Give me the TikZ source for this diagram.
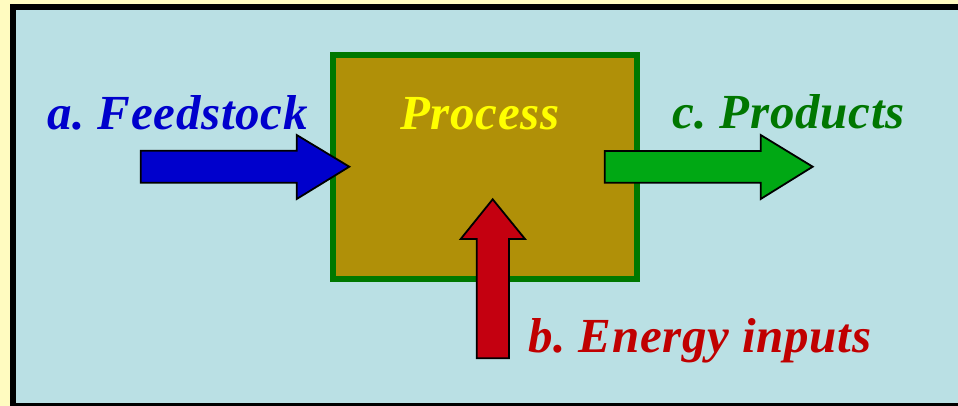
\documentclass[tikz,border=0pt]{standalone}
\usepackage{fontspec}
\setmainfont{Liberation Serif}
\newfontfamily\lblfont[LetterSpace=1.5]{Liberation Serif}
\definecolor{cream}{HTML}{FFFBC0}
\definecolor{skyb}{HTML}{BAE0E4}
\definecolor{boxfill}{HTML}{B09008}
\definecolor{boxline}{HTML}{007800}
\definecolor{arrblue}{HTML}{0000CC}
\definecolor{arrgreen}{HTML}{00A814}
\definecolor{arrred}{HTML}{C40010}
\definecolor{txtblue}{HTML}{0000CC}
\definecolor{txtgreen}{HTML}{007700}
\definecolor{txtred}{HTML}{C00000}
\definecolor{txtyellow}{HTML}{FFFF00}
\begin{document}
\frenchspacing
\begin{tikzpicture}[x=1pt,y=-1pt,
  lbl/.style={anchor=base west,inner sep=0pt,font=\lblfont\fontsize{49}{52}\selectfont\bfseries\itshape},
  fatarrow/.style={draw=black,line width=1.8pt,line join=miter}]
\useasboundingbox (0,0) rectangle (958,406);
\fill[cream] (0,0) rectangle (958,406);
\begin{scope}
\clip (0,0) rectangle (958,406);
\draw[line width=6pt,fill=skyb] (13,7) rectangle (975,406.3);
\end{scope}
\node[draw=boxline,line width=6pt,fill=boxfill,minimum width=304pt,minimum height=224pt,inner sep=0pt] (proc) at (485,167) {};
% arrows
\coordinate (ftip) at (349.3,166.7);
\coordinate (ptail) at (604.7,166.7);
\coordinate (etip) at (492.7,199.3);
\fill[arrblue,fatarrow] (140.7,150.7) -- (296.7,150.7) -- (296.7,135) -- (ftip) -- (296.7,199) -- (296.7,182.7) -- (140.7,182.7) -- cycle;
\fill[arrgreen,fatarrow] (ptail |- 0,151) -- (760.7,151) -- (760.7,135) -- (812.7,166.7) -- (760.7,199) -- (760.7,182.7) -- (ptail |- 0,182.7) -- cycle;
\fill[arrred,fatarrow] (etip) -- (525,239) -- (509,239) -- (509,358.3) -- (476.7,358.3) -- (476.7,239) -- (460.7,239) -- cycle;
% labels
\node[lbl,text=txtblue] (feed) at (47,130) {a. Feedstock};
\node[lbl,text=txtyellow] (ptext) at (400,130) {Process};
\node[lbl,text=txtgreen] (prod) at (672,129) {c. Products};
\node[lbl,text=txtred] (energy) at (528,352.7) {b. Energy inputs};
\end{tikzpicture}
\end{document}
